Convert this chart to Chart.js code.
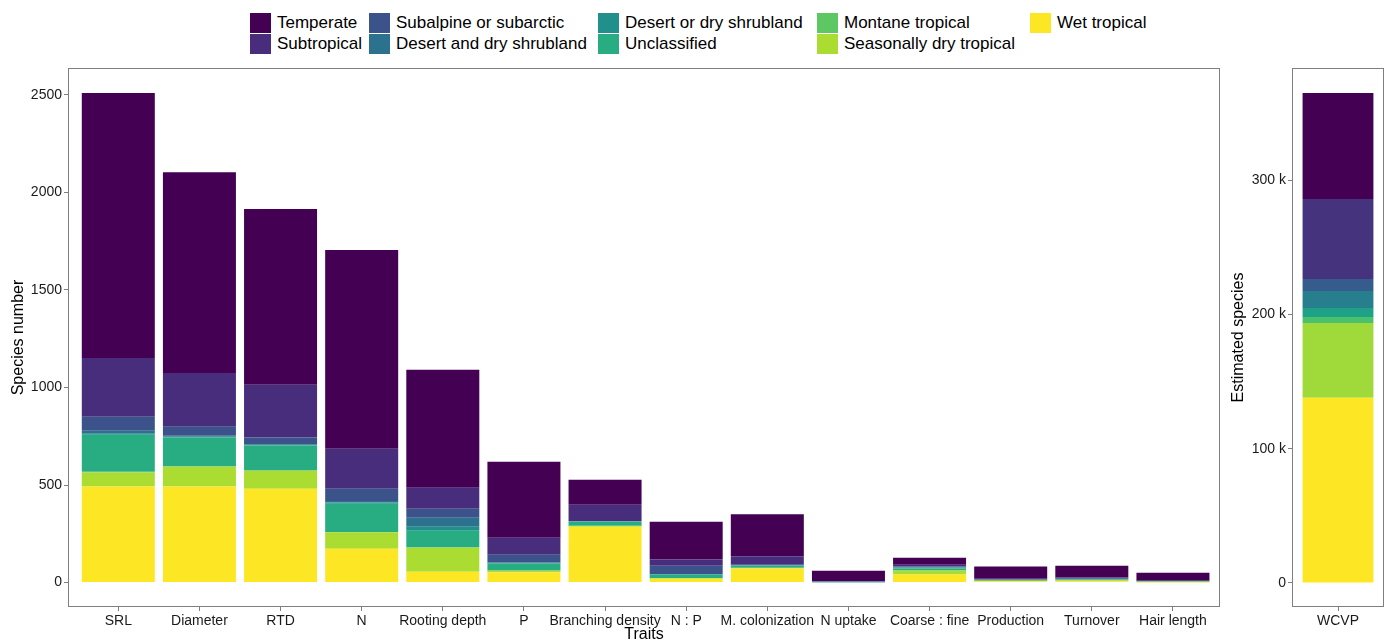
<!DOCTYPE html>
<html>
<head>
<meta charset="utf-8">
<script src="https://cdn.jsdelivr.net/npm/chart.js@4.4.0/dist/chart.umd.min.js"></script>
<style>
  body { margin: 0; width: 1392px; height: 644px; background: #fff; position: relative; overflow: hidden;
         font-family: "Liberation Sans", Arial, sans-serif; }
  #legend { position: absolute; left: 250px; top: 12px; display: grid; grid-auto-flow: column;
            grid-template-rows: 21px 21px; grid-template-columns: 119px 229px 219px 213px 150px; }
  .item { display: flex; align-items: center; font-size: 17px; color: #000; white-space: nowrap; }
  .sw { width: 21px; height: 20px; margin-right: 6px; flex: none; }
  #main { position: absolute; left: 0; top: 60px; }
  #wcvp { position: absolute; left: 1225px; top: 60px; }
</style>
</head>
<body>
<div id="legend"></div>
<canvas id="main" width="1230" height="584"></canvas>
<canvas id="wcvp" width="167" height="584"></canvas>
<script>
const traits = ['SRL', 'Diameter', 'RTD', 'N', 'Rooting depth', 'P', 'Branching density', 'N : P',
  'M. colonization', 'N uptake', 'Coarse : fine', 'Production', 'Turnover', 'Hair length'];

const biomes = ['Temperate', 'Subtropical', 'Subalpine or subarctic', 'Desert and dry shrubland',
  'Desert or dry shrubland', 'Unclassified', 'Montane tropical', 'Seasonally dry tropical', 'Wet tropical'];
const colors = ['#440154', '#472D7B', '#3B528B', '#2C728E', '#21908C', '#27AD81', '#5DC863', '#AADC32', '#FDE725'];
const wcvpColors = ['#440154', '#46337E', '#365C8D', '#277F8E', '#1FA187', '#27AD81', '#4AC16D', '#9FDA3A', '#FDE725'];

// species number per trait, one array per biome
const temperate    = [1358, 1029, 901, 1019, 605, 390, 128, 194, 215, 54, 36, 62, 61, 41];
const subtropical  = [302, 276, 270, 205, 107, 87, 83, 31, 44, 1, 9, 3, 4, 1];
const subalpine    = [72, 46, 35, 63, 46, 40, 2, 43, 2, 1, 3, 2, 3, 1];
const desertAnd    = [15, 5, 3, 7, 46, 4, 1, 2, 1, 1, 3, 1, 1, 0];
const desertOr     = [5, 4, 3, 7, 21, 2, 1, 1, 1, 2, 5, 1, 2, 1];
const unclassified = [190, 148, 128, 144, 85, 35, 21, 18, 11, 2, 9, 3, 3, 2];
const montane      = [3, 2, 2, 2, 2, 1, 1, 1, 1, 0, 2, 1, 1, 0];
const seasonal     = [72, 101, 92, 84, 123, 8, 3, 2, 3, 0, 20, 2, 5, 3];
const wet          = [493, 493, 481, 174, 56, 53, 287, 20, 72, 0, 41, 7, 7, 2];
const series = [temperate, subtropical, subalpine, desertAnd, desertOr, unclassified, montane, seasonal, wet];

// WCVP estimated species, same biome order
const wcvp = [78900, 59600, 9000, 12600, 6700, 0, 4500, 55700, 137900];

const yTicks = [0, 500, 1000, 1500, 2000, 2500];
const wcvpTicks = [0, 100000, 200000, 300000];

// legend
const leg = document.getElementById('legend');
biomes.forEach((b, i) => {
  const d = document.createElement('div');
  d.className = 'item';
  d.innerHTML = '<span class="sw" style="background:' + colors[i] + '"></span>' + b;
  leg.appendChild(d);
});

const panelBox = {
  id: 'panelBox',
  afterDraw(c) {
    const a = c.chartArea, x = c.ctx;
    x.save();
    x.strokeStyle = '#7f7f7f';
    x.lineWidth = 1;
    x.strokeRect(a.left + 0.5, a.top + 0.5, a.right - a.left - 1, a.bottom - a.top - 1);
    x.restore();
  }
};

const tickFont = { family: '"Liberation Sans", Arial, sans-serif', size: 14 };
const titleFont = { family: '"Liberation Sans", Arial, sans-serif', size: 16 };

const fitY = w => s => { s.width = w; s.paddingTop = 0; s.paddingBottom = 0; };
const fitX = s => { s.height = 37; s.paddingLeft = 0; s.paddingRight = 0; };

const mainSets = series.map((s, i) => ({
  label: biomes[i],
  data: s.map((v, j) => ({ x: j, y: v })),
  backgroundColor: colors[i],
  borderWidth: 0,
  barPercentage: 0.9,
  categoryPercentage: 1
})).reverse();

new Chart(document.getElementById('main'), {
  type: 'bar',
  data: { datasets: mainSets },
  options: {
    responsive: false,
    animation: false,
    layout: { padding: { top: 8, right: 10, left: 0, bottom: 0 } },
    plugins: { legend: { display: false }, tooltip: { enabled: false } },
    scales: {
      x: {
        type: 'linear', stacked: true, offset: false, min: -0.62, max: 13.58,
        afterBuildTicks: s => { s.ticks = traits.map((t, i) => ({ value: i })); },
        afterFit: fitX,
        ticks: { callback: v => traits[v], font: tickFont, color: '#1a1a1a', padding: 2, maxRotation: 0, autoSkip: false },
        grid: { offset: false, drawOnChartArea: false, color: '#7f7f7f', tickLength: 4 },
        border: { display: false },
        title: { display: true, text: 'Traits', font: titleFont, color: '#000', padding: { top: 0, bottom: 0 } }
      },
      y: {
        stacked: true, min: -125, max: 2638,
        afterBuildTicks: s => { s.ticks = yTicks.map(v => ({ value: v })); },
        afterFit: fitY(68),
        ticks: { callback: v => String(v), font: tickFont, color: '#1a1a1a', padding: 2 },
        grid: { drawOnChartArea: false, color: '#7f7f7f', tickLength: 4 },
        border: { display: false },
        title: { display: true, text: 'Species number', font: titleFont, color: '#000', padding: { top: 9, bottom: 0 } }
      }
    }
  },
  plugins: [panelBox]
});

const wcvpSets = wcvp.map((v, i) => ({
  label: biomes[i],
  data: [{ x: 0, y: v }],
  backgroundColor: wcvpColors[i],
  borderWidth: 0,
  barPercentage: 0.77,
  categoryPercentage: 1
})).reverse();

new Chart(document.getElementById('wcvp'), {
  type: 'bar',
  data: { datasets: wcvpSets },
  options: {
    responsive: false,
    animation: false,
    layout: { padding: { top: 8, right: 8, left: 0, bottom: 0 } },
    plugins: { legend: { display: false }, tooltip: { enabled: false } },
    scales: {
      x: {
        type: 'linear', stacked: true, offset: false, min: -0.6, max: 0.6,
        afterBuildTicks: s => { s.ticks = [{ value: 0 }]; },
        afterFit: fitX,
        ticks: { callback: () => 'WCVP', font: tickFont, color: '#1a1a1a', padding: 2, maxRotation: 0 },
        grid: { offset: false, drawOnChartArea: false, color: '#7f7f7f', tickLength: 4 },
        border: { display: false },
        title: { display: false }
      },
      y: {
        stacked: true, min: -17900, max: 383500,
        afterBuildTicks: s => { s.ticks = wcvpTicks.map(v => ({ value: v })); },
        afterFit: fitY(67),
        ticks: { callback: v => v === 0 ? '0' : (v / 1000) + ' k', font: tickFont, color: '#1a1a1a', padding: 2 },
        grid: { drawOnChartArea: false, color: '#7f7f7f', tickLength: 4 },
        border: { display: false },
        title: { display: true, text: 'Estimated species', font: titleFont, color: '#000', padding: { top: 4, bottom: 0 } }
      }
    }
  },
  plugins: [panelBox]
});
</script>
</body>
</html>
